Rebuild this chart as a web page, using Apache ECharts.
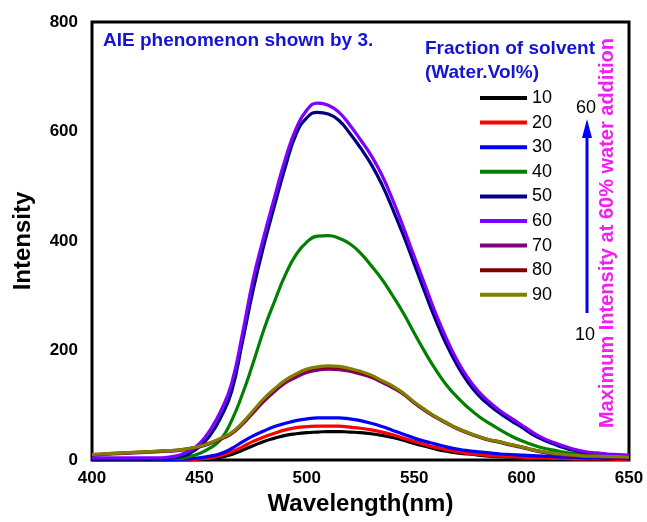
<!DOCTYPE html>
<html>
<head>
<meta charset="utf-8">
<title>AIE emission spectra</title>
<script src="https://cdn.jsdelivr.net/npm/echarts@6/dist/echarts.min.js"></script>
<style>
  html, body { margin: 0; padding: 0; background: #fff; }
  #chart { width: 647px; height: 522px; }
</style>
</head>
<body>
<div id="chart"></div>
<script>
// Emission wavelength grid (nm)
const wavelengths = [400,405,410,415,420,425,430,435,440,445,450,455,460,465,470,475,480,485,490,495,500,505,510,515,520,525,530,535,540,545,550,555,560,565,570,575,580,585,590,595,600,605,610,615,620,625,630,635,640,645,650];

// Fluorescence intensity for each water fraction (vol%)
const water10 = [0,0,0,0,0,0,0,0,0,0,1,2,5,10,18,26,34,40,45,48,50,51,52,52,51,50,48,45,41,36,30,25,20,16,13,11,9,7,6,5,4,3,3,2,2,2,2,1,1,1,1];
const water20 = [0,0,0,0,0,0,0,0,0,0,2,4,8,15,24,34,42,49,55,59,61,62,62,62,60,58,55,51,46,40,34,28,23,19,15,12,10,8,7,6,5,4,4,3,3,2,2,2,2,1,1];
const water30 = [0,0,0,0,0,0,0,0,1,2,4,7,12,21,33,44,53,61,67,72,75,77,77,77,75,72,67,61,54,47,40,34,29,24,20,17,15,13,11,10,9,8,7,6,5,5,4,4,3,3,2];
const water40 = [2,2,2,2,2,2,2,3,3,6,12,22,38,72,120,177,238,290,338,375,398,409,410,405,395,378,355,330,300,268,232,197,165,137,115,96,80,67,55,44,35,28,22,18,14,12,10,9,8,7,6];
const water50 = [1,1,1,1,1,1,2,3,5,11,24,45,78,125,215,310,392,465,535,595,625,635,632,620,597,570,540,503,458,410,358,306,256,211,173,142,118,100,85,72,60,47,37,29,22,17,13,11,9,8,7];
const water60 = [4,4,4,4,4,4,4,5,8,16,30,55,90,140,230,330,408,480,550,605,639,652,648,635,612,585,556,520,475,425,372,320,268,222,182,150,125,106,90,77,64,51,40,32,25,19,15,13,11,10,9];
const water70 = [9,10,11,12,13,14,15,16,17,20,24,30,38,48,65,86,107,125,141,151,160,164,166,165,162,157,151,142,132,120,104,90,78,67,57,49,42,36,32,27,23,18,14,11,9,8,7,6,6,5,5];
const water80 = [10,11,12,13,14,15,16,17,18,21,25,31,39,49,67,88,110,128,145,155,164,168,170,169,165,160,153,144,134,121,105,91,79,68,58,50,43,37,33,28,24,19,15,12,10,9,7,7,6,6,5];
const water90 = [10,11,12,13,14,15,16,17,18,21,25,31,40,50,68,90,112,130,146,157,166,170,172,171,167,162,155,145,135,122,106,92,79,68,58,50,43,37,33,28,24,19,15,12,10,9,7,7,6,6,5];

const seriesNames = ['10','20','30','40','50','60','70','80','90'];
const seriesValues = [water10, water20, water30, water40, water50, water60, water70, water80, water90];
const seriesColors = ['#000000','#ff0000','#0000ff','#008000','#000080','#8000ff','#800080','#800000','#808000'];

const xTicks = { min: 400, max: 650, step: 50 };
const yTicks = { min: 0, max: 800, step: 200 };

const FONT = '"Liberation Sans", Arial, sans-serif';
const chart = echarts.init(document.getElementById('chart'), null, { renderer: 'canvas' });

const series = seriesNames.map((name, i) => ({
  name: name,
  type: 'line',
  data: wavelengths.map((w, k) => [w, seriesValues[i][k]]),
  showSymbol: false,
  smooth: 0.5,
  lineStyle: { color: seriesColors[i], width: 3.2 },
  itemStyle: { color: seriesColors[i] },
  emphasis: { disabled: true },
  z: 2 + i
}));

chart.setOption({
  backgroundColor: '#ffffff',
  animation: false,
  grid: {
    left: 92, right: 18, top: 22, bottom: 62,
    show: true, borderColor: '#000', borderWidth: 3, backgroundColor: 'transparent'
  },
  xAxis: {
    type: 'value',
    min: xTicks.min, max: xTicks.max, interval: xTicks.step,
    name: 'Wavelength(nm)',
    nameLocation: 'middle',
    nameGap: 25,
    nameTextStyle: { fontFamily: FONT, fontWeight: 'bold', fontSize: 24, color: '#000' },
    axisLine: { show: false },
    axisTick: { show: false },
    splitLine: { show: false },
    axisLabel: { margin: 10, fontFamily: FONT, fontWeight: 'bold', fontSize: 17, color: '#000' }
  },
  yAxis: {
    type: 'value',
    min: yTicks.min, max: yTicks.max, interval: yTicks.step,
    name: 'Intensity',
    nameLocation: 'middle',
    nameGap: 57,
    nameTextStyle: { fontFamily: FONT, fontWeight: 'bold', fontSize: 24, color: '#000' },
    axisLine: { show: false },
    axisTick: { show: false },
    splitLine: { show: false },
    axisLabel: { margin: 14, fontFamily: FONT, fontWeight: 'bold', fontSize: 17, color: '#000' }
  },
  legend: {
    orient: 'vertical',
    left: 480,
    top: 88,
    padding: 0,
    itemWidth: 47,
    itemHeight: 4,
    itemGap: 4.6,
    icon: 'rect',
    selectedMode: false,
    data: seriesNames,
    textStyle: { fontFamily: FONT, fontSize: 18, color: '#000', lineHeight: 20 }
  },
  graphic: [
    {
      type: 'text', left: 103, top: 31, z: 10,
      style: { text: 'AIE phenomenon shown by 3.', fill: '#1414d2', font: 'bold 19px ' + FONT }
    },
    {
      type: 'text', left: 425, top: 39, z: 10,
      style: { text: 'Fraction of solvent', fill: '#1414d2', font: 'bold 19px ' + FONT }
    },
    {
      type: 'text', left: 425, top: 63, z: 10,
      style: { text: '(Water.Vol%)', fill: '#1414d2', font: 'bold 19px ' + FONT }
    },
    // Arrow from 10 to 60 vol%
    {
      type: 'line', z: 10,
      shape: { x1: 587, y1: 313, x2: 587, y2: 134 },
      style: { stroke: '#0000ff', lineWidth: 3 }
    },
    {
      type: 'polygon', z: 10,
      shape: { points: [[587, 119], [582, 138], [592, 138]] },
      style: { fill: '#0000ff' }
    },
    {
      type: 'text', x: 586, y: 108, z: 10,
      style: { text: '60', fill: '#000', font: '18px ' + FONT, align: 'center', verticalAlign: 'middle' }
    },
    {
      type: 'text', x: 585, y: 335, z: 10,
      style: { text: '10', fill: '#000', font: '18px ' + FONT, align: 'center', verticalAlign: 'middle' }
    },
    {
      type: 'text', x: 607, y: 233, rotation: Math.PI / 2, z: 10,
      style: { text: 'Maximum Intensity at 60% water addition', fill: '#f020f0', font: 'bold 20px ' + FONT, align: 'center', verticalAlign: 'middle' }
    }
  ],
  series: series
});
</script>
</body>
</html>
